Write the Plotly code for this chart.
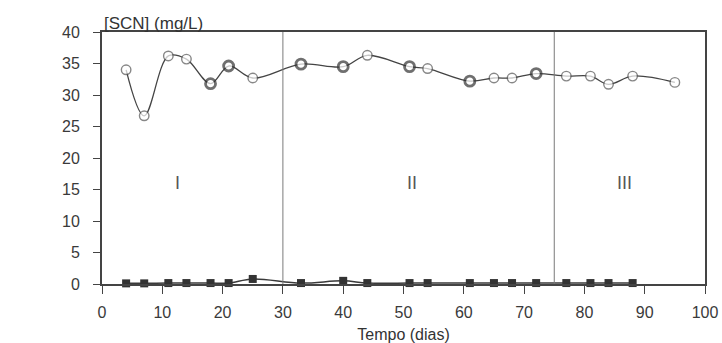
import plotly.graph_objects as go

# Time (days)
days_scn = [4, 7, 11, 14, 18, 21, 25, 33, 40, 44, 51, 54, 61, 65, 68, 72, 77, 81, 84, 88, 95]
scn = [34.0, 26.7, 36.2, 35.7, 31.8, 34.6, 32.7, 34.9, 34.5, 36.3, 34.5, 34.2, 32.2, 32.7, 32.7, 33.4, 33.0, 33.0, 31.7, 33.0, 32.0]
bold = [0, 0, 0, 0, 1, 1, 0, 1, 1, 0, 1, 0, 1, 0, 0, 1, 0, 0, 0, 0, 0]

days_sq = [4, 7, 11, 14, 18, 21, 25, 33, 40, 44, 51, 54, 61, 65, 68, 72, 77, 81, 84, 88]
sq = [0.1, 0.1, 0.15, 0.15, 0.15, 0.15, 0.8, 0.15, 0.5, 0.15, 0.15, 0.15, 0.15, 0.15, 0.15, 0.15, 0.15, 0.15, 0.15, 0.15]

phase_bounds = [30, 75]
phase_labels = ["I", "II", "III"]
phase_label_x = [12.6, 51.4, 86.6]
phase_label_y = 16

x_ticks = list(range(0, 101, 10))
y_ticks = list(range(0, 41, 5))

dark = "#3a3a3a"
font = "Liberation Sans, Arial, sans-serif"

fig = go.Figure()

fig.add_trace(go.Scatter(
    x=days_sq, y=sq, mode="lines+markers",
    line=dict(color=dark, width=1.5, shape="spline"),
    marker=dict(symbol="square", size=8, color="#333333", line=dict(width=0)),
    showlegend=False, cliponaxis=False,
))

fig.add_trace(go.Scatter(
    x=days_scn, y=scn, mode="lines+markers",
    line=dict(color="#444444", width=1.3, shape="spline", smoothing=1.0),
    marker=dict(symbol="circle", size=[10 if b else 9.5 for b in bold], color="white",
                line=dict(color=["#333333" if b else "#555555" for b in bold],
                          width=[2.8 if b else 1.4 for b in bold])),
    showlegend=False,
))

for xb in phase_bounds:
    fig.add_shape(type="line", x0=xb, x1=xb, y0=0, y1=40, xref="x", yref="y",
                  line=dict(color="#7a7a7a", width=1))

for lab, lx in zip(phase_labels, phase_label_x):
    fig.add_annotation(x=lx, y=phase_label_y, text=lab, showarrow=False,
                       font=dict(family=font, size=18, color="#555555"))

fig.add_annotation(x=0, y=1, xref="paper", yref="paper", xanchor="left", yanchor="bottom",
                   text="[SCN] (mg/L)", showarrow=False, yshift=-3,
                   font=dict(family=font, size=17, color="#333333"))

fig.update_xaxes(range=[0, 100], tickvals=x_ticks, ticks="outside", ticklen=8, tickwidth=1,
                 tickcolor="#444444", showline=True, linecolor="#444444", linewidth=2,
                 mirror=True, showgrid=False, zeroline=False, automargin=False,
                 tickfont=dict(family=font, size=16, color="#3a3a3a"),
                 ticklabelstandoff=5,
                 title=dict(text="Tempo (dias)", font=dict(family=font, size=16, color="#333333"), standoff=10))
fig.update_yaxes(range=[0, 40], tickvals=y_ticks, ticks="outside", ticklen=7, tickwidth=1,
                 tickcolor="#444444", showline=True, linecolor="#444444", linewidth=2,
                 mirror=True, showgrid=False, zeroline=False, automargin=False,
                 tickfont=dict(family=font, size=16, color="#3a3a3a"),
                 ticklabelstandoff=10)

fig.update_layout(
    width=722, height=343,
    margin=dict(l=102, r=17, t=32, b=59),
    paper_bgcolor="white", plot_bgcolor="white",
)

fig.write_html("out.html", config={"displayModeBar": False},
               post_script="document.body.style.margin='0';")
